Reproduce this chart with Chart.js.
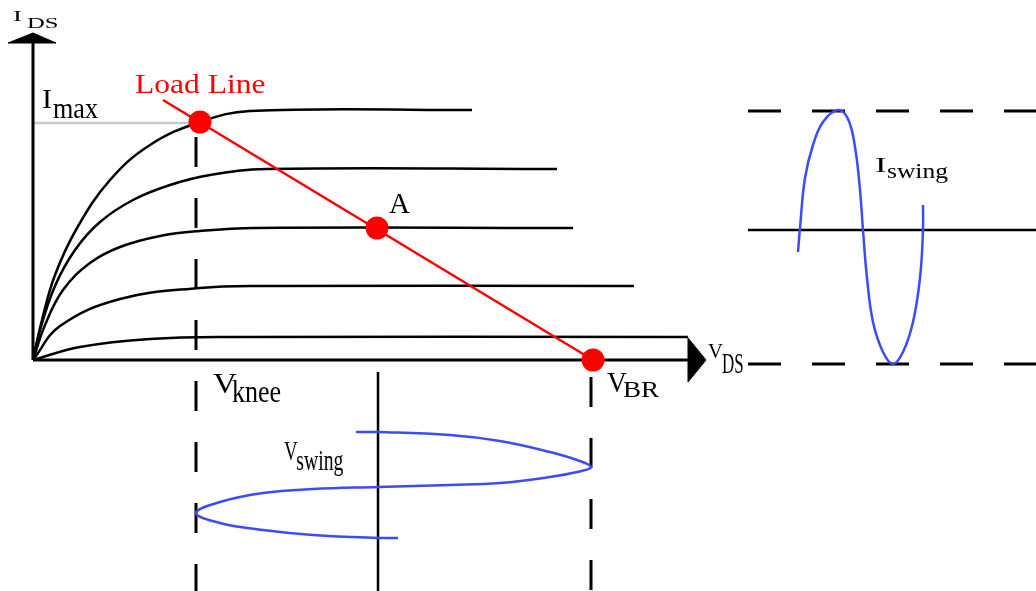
<!DOCTYPE html>
<html>
<head>
<meta charset="utf-8">
<script src="https://cdn.jsdelivr.net/npm/chart.js@4.4.0/dist/chart.umd.min.js"></script>
<style>
  html, body { margin: 0; padding: 0; background: #fff; }
  #wrap { width: 1036px; height: 591px; }
</style>
</head>
<body>
<div id="wrap"><canvas id="myChart" width="1036" height="591"></canvas></div>
<script>
// diagram units: x to the right, y downwards (same span as the picture)
var ivCurve1 = [[33,360],[42,320],[55,275],[77,228],[110,180],[150,145],[200,122],[250,111],[472,110]];
var ivCurve2 = [[33,360],[40,330],[55,286],[75,250],[100,222],[133,200],[170,185],[210,175],[267,169],[557,169]];
var ivCurve3 = [[33,360],[45,325],[63,290],[90,263],[120,247],[160,236],[200,231],[255,228],[573,228]];
var ivCurve4 = [[33,360],[60,326],[120,299],[200,288],[260,286],[634,286]];
var ivCurve5 = [[33,360],[80,347],[150,339],[230,337],[688,337]];

var loadLine = [[163,100],[593,360]];
var loadPoints = [[200,122],[377,228],[593,360]];
var imaxLine = [[33,123],[190,123]];

var yAxisLine = [[33,360],[33,43]];
var xAxisLine = [[33,360],[688,360]];
var arrowUp = [[8,43],[33,33],[56,43],[8,43]];
var arrowRight = [[688,338],[706,360],[688,382],[688,338]];

var vKneeLine = [[196,137],[196,591]];
var vBrLine = [[591,377],[591,591]];
var vMidLine = [[378,372],[378,591]];

var vSwing = [[356,432],[378,432],[450,435],[500,441],[550,452],[577,460],[591,467],[577,472],[550,477],[500,483],
  [450,485],[378,487],[313,489],[263,493],[220,502],[196,513],[220,523],[263,530],[313,535],[378,538],[398,538]];

var iSwing = [[798,252],[800,228],[805,178],[813,145],[823,122],[838,110],[848,119],[855,147],[860,190],[863,230],
  [867,278],[873,322],[883,352],[893,364],[903,352],[913,322],[920,278],[923,230],[923,205]];
var iTopLine = [[748,111],[1036,111]];
var iMidLine = [[748,230],[1036,230]];
var iBotLine = [[748,364],[1036,364]];

function pts(a) { return a.map(function(p) { return {x: p[0], y: p[1]}; }); }

// text pieces: x, baseline, font size, ink width
var labels = [
  {t: 'I', x: 13, y: 21, s: 15, w: 9},
  {t: 'DS', x: 27, y: 28, s: 15, w: 31},
  {t: 'Load Line', x: 135, y: 93, s: 28, w: 130, c: '#ff0000'},
  {t: 'I', x: 42, y: 108, s: 27, w: 10},
  {t: 'max', x: 53, y: 118, s: 30, w: 45},
  {t: 'A', x: 389, y: 213, s: 29, w: 21},
  {t: 'V', x: 213, y: 393, s: 29, w: 24},
  {t: 'knee', x: 232, y: 402, s: 32, w: 49},
  {t: 'V', x: 607, y: 392, s: 29, w: 20},
  {t: 'BR', x: 623, y: 397, s: 23, w: 37},
  {t: 'V', x: 708, y: 358, s: 22, w: 15},
  {t: 'DS', x: 722, y: 373, s: 29, w: 21},
  {t: 'V', x: 284, y: 460, s: 27, w: 14},
  {t: 'swing', x: 297, y: 470, s: 29, w: 46},
  {t: 'I', x: 875, y: 172, s: 22, w: 11},
  {t: 'swing', x: 887, y: 178, s: 22, w: 61}
];

var textPlugin = {
  id: 'diagramText',
  afterDatasetsDraw: function(chart) {
    var ctx = chart.ctx, sx = chart.scales.x, sy = chart.scales.y;
    labels.forEach(function(l) {
      ctx.save();
      ctx.font = l.s + 'px "Liberation Serif", "Times New Roman", serif';
      ctx.fillStyle = l.c || '#000';
      ctx.textBaseline = 'alphabetic';
      var m = ctx.measureText(l.t);
      var ink = m.actualBoundingBoxRight + m.actualBoundingBoxLeft || m.width;
      ctx.translate(sx.getPixelForValue(l.x), sy.getPixelForValue(l.y));
      ctx.scale(l.w / ink, 1);
      ctx.fillText(l.t, m.actualBoundingBoxLeft || 0, 0);
      ctx.restore();
    });
  }
};

function line(data, color, width, extra) {
  var d = {data: pts(data), borderColor: color, borderWidth: width, pointRadius: 0,
    showLine: true, fill: false, tension: 0, order: 5};
  for (var k in extra) d[k] = extra[k];
  return d;
}

var black = '#000000';
var blue = '#3c4cf5';
var red = '#ff0000';

var ctx = document.getElementById('myChart').getContext('2d');
var myChart = new Chart(ctx, {
  type: 'scatter',
  data: {
    datasets: [
      line(yAxisLine, black, 3),
      line(xAxisLine, black, 3),
      line(arrowUp, black, 1, {fill: 'shape', backgroundColor: black}),
      line(arrowRight, black, 1, {fill: 'shape', backgroundColor: black}),
      line(ivCurve1, black, 2.5, {tension: 0.4}),
      line(ivCurve2, black, 2.5, {tension: 0.4}),
      line(ivCurve3, black, 2.5, {tension: 0.4}),
      line(ivCurve4, black, 2.5, {tension: 0.4}),
      line(ivCurve5, black, 2.5, {tension: 0.4}),
      line(imaxLine, '#c5cccc', 2.5),
      line(vKneeLine, black, 3, {borderDash: [30, 31]}),
      line(vBrLine, black, 3, {borderDash: [30, 31]}),
      line(vMidLine, black, 2.5),
      line(iTopLine, black, 3, {borderDash: [33, 31]}),
      line(iBotLine, black, 3, {borderDash: [33, 31]}),
      line(iMidLine, black, 2.5),
      line(vSwing, blue, 2.5, {tension: 0.4, order: 3}),
      line(iSwing, blue, 2.5, {tension: 0.4, order: 3}),
      line(loadLine, red, 2.5, {order: 2}),
      {data: pts(loadPoints), pointRadius: 11.5, pointBackgroundColor: red, pointBorderWidth: 0,
        showLine: false, order: 1}
    ]
  },
  options: {
    responsive: false,
    animation: false,
    devicePixelRatio: 1,
    layout: {padding: 0, autoPadding: false},
    scales: {
      x: {type: 'linear', min: 0, max: 1036, display: false},
      y: {type: 'linear', min: 0, max: 591, reverse: true, display: false}
    },
    plugins: {
      legend: {display: false},
      tooltip: {enabled: false},
      title: {display: false}
    }
  },
  plugins: [textPlugin]
});
</script>
</body>
</html>
